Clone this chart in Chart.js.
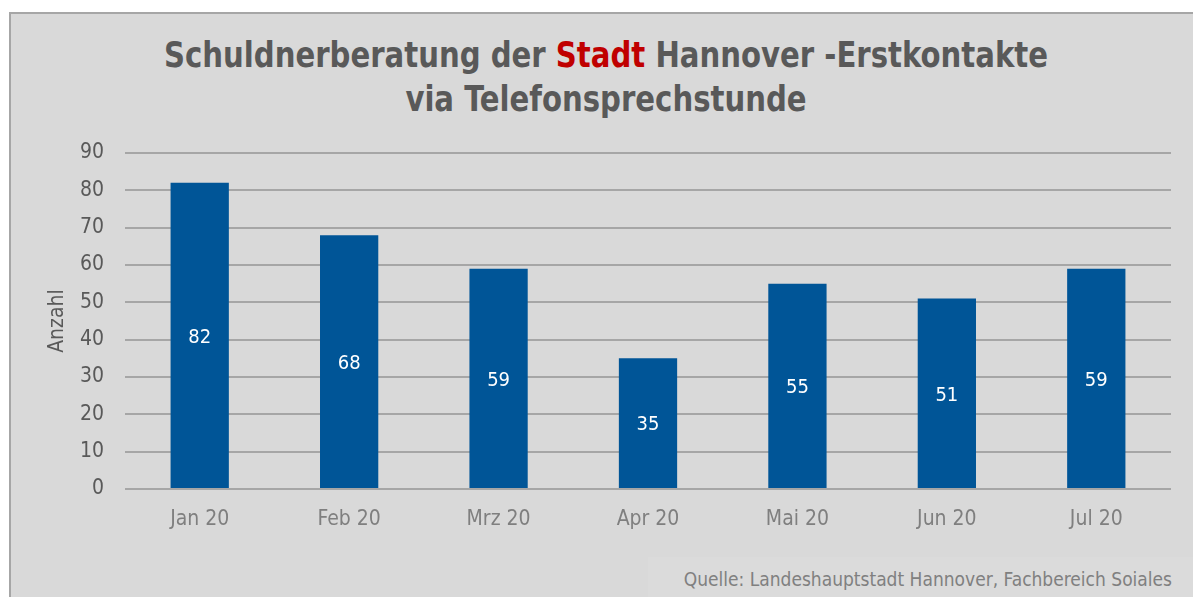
<!DOCTYPE html>
<html>
<head>
<meta charset="utf-8">
<script src="https://cdn.jsdelivr.net/npm/chart.js@4/dist/chart.umd.min.js"></script>
<style>
  html,body{margin:0;padding:0;background:#fff;width:1193px;height:597px;overflow:hidden;}
  #frame{position:absolute;left:9px;top:12px;width:1182px;height:590px;background:#d9d9d9;border-left:2px solid #a6a6a6;border-top:2px solid #a6a6a6;border-right:2px solid #bdbdbd;}
  #title{position:absolute;left:0;top:33px;width:1212px;text-align:center;font-family:"DejaVu Sans Condensed",sans-serif;font-weight:bold;font-size:36px;line-height:44px;color:#595959;transform:scaleX(0.9);transform-origin:606px 0;}
  #title .red{color:#c00000;}
  #src{position:absolute;left:648px;top:557px;width:545px;height:40px;background:#dbdbdb;}
  #srctext{position:absolute;right:21px;top:568px;font-family:"DejaVu Sans Condensed",sans-serif;font-size:19px;color:#808080;white-space:nowrap;}
  #c{position:absolute;left:0;top:0;}
</style>
</head>
<body>
<div id="frame"></div>
<div id="src"></div>
<div id="srctext">Quelle: Landeshauptstadt Hannover, Fachbereich Soiales</div>
<div id="title">Schuldnerberatung der <span class="red">Stadt</span> Hannover -Erstkontakte<br>via Telefonsprechstunde</div>
<canvas id="c" width="1193" height="597"></canvas>
<script>
const categories = ["Jan 20","Feb 20","Mrz 20","Apr 20","Mai 20","Jun 20","Jul 20"];
const values = [82, 68, 59, 35, 55, 51, 59];
const yTicks = [0,10,20,30,40,50,60,70,80,90];
const yAxisTitle = "Anzahl";

const FONT = '"DejaVu Sans Condensed",sans-serif';

const barLabels = {
  id: 'barLabels',
  afterDatasetsDraw(chart) {
    const ctx = chart.ctx;
    const meta = chart.getDatasetMeta(0);
    ctx.save();
    ctx.fillStyle = '#ffffff';
    ctx.font = '20px ' + FONT;
    ctx.textAlign = 'center';
    ctx.textBaseline = 'middle';
    meta.data.forEach((bar, i) => {
      const p = bar.getProps(['x','y','base'], true);
      ctx.fillText(String(values[i]), p.x, (p.y + p.base) / 2 + 2);
    });
    ctx.restore();
  }
};

new Chart(document.getElementById('c'), {
  type: 'bar',
  data: {
    labels: categories,
    datasets: [{
      data: values,
      backgroundColor: '#005597',
      borderWidth: 0,
      categoryPercentage: 1,
      barPercentage: 0.39
    }]
  },
  options: {
    responsive: false,
    animation: false,
    devicePixelRatio: 1,
    layout: { padding: { left: 0, top: 153, right: 22, bottom: 0 } },
    plugins: { legend: { display: false }, tooltip: { enabled: false }, title: { display: false } },
    scales: {
      x: {
        grid: { display: false, drawTicks: false },
        border: { display: false },
        ticks: { color: '#7f7f7f', font: { family: FONT, size: 21 }, padding: 18 },
        afterFit(s) { s.height = 108; }
      },
      y: {
        min: 0, max: 90,
        afterBuildTicks(s) { s.ticks = yTicks.map(v => ({ value: v })); },
        grid: { color: '#a6a6a6', lineWidth: 2, drawTicks: false },
        border: { display: false },
        ticks: { color: '#595959', font: { family: FONT, size: 21 }, padding: 21 },
        title: { display: true, text: yAxisTitle, color: '#595959', font: { family: FONT, size: 21 }, padding: { top: 45, bottom: 0 } },
        afterFit(s) { s.width = 125; }
      }
    }
  },
  plugins: [barLabels]
});
</script>
</body>
</html>
